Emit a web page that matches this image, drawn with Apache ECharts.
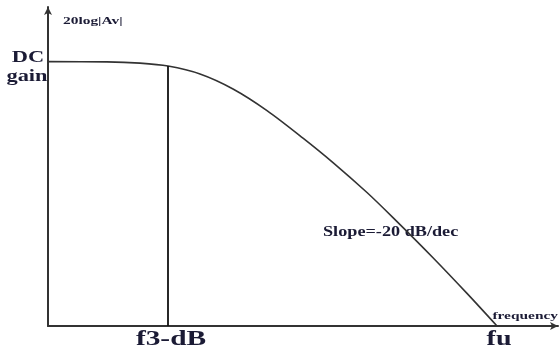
<!DOCTYPE html>
<html>
<head>
<meta charset="utf-8">
<script src="https://cdn.jsdelivr.net/npm/echarts@6/dist/echarts.min.js"></script>
<style>
  html, body { margin: 0; padding: 0; background: #fff; }
  #chart { width: 560px; height: 351px; }
</style>
</head>
<body>
<div id="chart"></div>
<script>
// Magnitude response sketch: log-frequency (decades) vs 20log|Av| (dB)
const logFreq = [0, 0.59, 0.92, 1.20, 1.52, 1.85, 2.19, 2.55, 2.85, 3.19, 3.45, 3.85, 4.19, 4.49];
const gainDb  = [60.0, 59.95, 59.66, 59.0, 57.2, 53.8, 48.9, 42.65, 37.1, 30.3, 24.6, 15.5, 7.4, 0];

const f3 = 1.20;      // corner frequency
const f3Gain = 59.0;  // gain at the corner
const fu = 4.49;      // unity-gain frequency
const dcGain = 60.0;

const xMax = 5.1;
const yMax = 72.4;

const ink = '#333333';
const textInk = '#1b1b35';
const serif = '"Liberation Serif", "DejaVu Serif", serif';

const chart = echarts.init(document.getElementById('chart'));

chart.setOption({
  animation: false,
  backgroundColor: '#ffffff',
  grid: { left: 48, right: 2, top: 7, bottom: 25 },
  xAxis: {
    type: 'value', min: 0, max: xMax,
    axisLine: { show: true, symbol: ['none', 'arrow'], symbolSize: [6, 8], lineStyle: { color: ink, width: 2 } },
    axisTick: { show: false }, axisLabel: { show: false }, splitLine: { show: false }
  },
  yAxis: {
    type: 'value', min: 0, max: yMax,
    axisLine: { show: true, symbol: ['none', 'arrow'], symbolSize: [6, 8], lineStyle: { color: ink, width: 2 } },
    axisTick: { show: false }, axisLabel: { show: false }, splitLine: { show: false }
  },
  series: [
    {
      type: 'line',
      data: logFreq.map((x, i) => [x, gainDb[i]]),
      smooth: 0.3,
      symbol: 'none',
      lineStyle: { color: ink, width: 1.6 }
    },
    {
      type: 'line',
      data: [[f3, 0], [f3, f3Gain]],
      symbol: 'none',
      lineStyle: { color: '#111', width: 1.8 }
    }
  ]
});

// Annotations placed from data coordinates
function px(pt) { return chart.convertToPixel({ gridIndex: 0 }, pt); }
const p0 = px([0, 0]);
const pDc = px([0, dcGain]);
const pF3 = px([f3, 0]);
const pFu = px([fu, 0]);
const pTop = px([0, yMax]);
const pEnd = px([xMax, 0]);

function label(text, x, y, size, align, sx) {
  return {
    type: 'text', x: x, y: y, scaleX: sx || 1.4,
    style: {
      text: text, fill: textInk, font: 'bold ' + size + 'px ' + serif,
      align: align || 'center', verticalAlign: 'middle'
    }
  };
}

chart.setOption({
  graphic: [
    label('20log|Av|', pTop[0] + 15, pTop[1] + 14, 11, 'left'),
    label('DC', 28, pDc[1] - 4, 16, 'center'),
    label('gain', 27, pDc[1] + 15, 16, 'center'),
    label('f3-dB', pF3[0] + 3, p0[1] + 14, 21, 'center'),
    label('fu', pFu[0] + 2, p0[1] + 14, 20, 'center'),
    label('frequency', pEnd[0], p0[1] - 10, 11, 'right'),
    label('Slope=-20 dB/dec', 323, 232, 14, 'left', 1.3)
  ]
});
</script>
</body>
</html>
